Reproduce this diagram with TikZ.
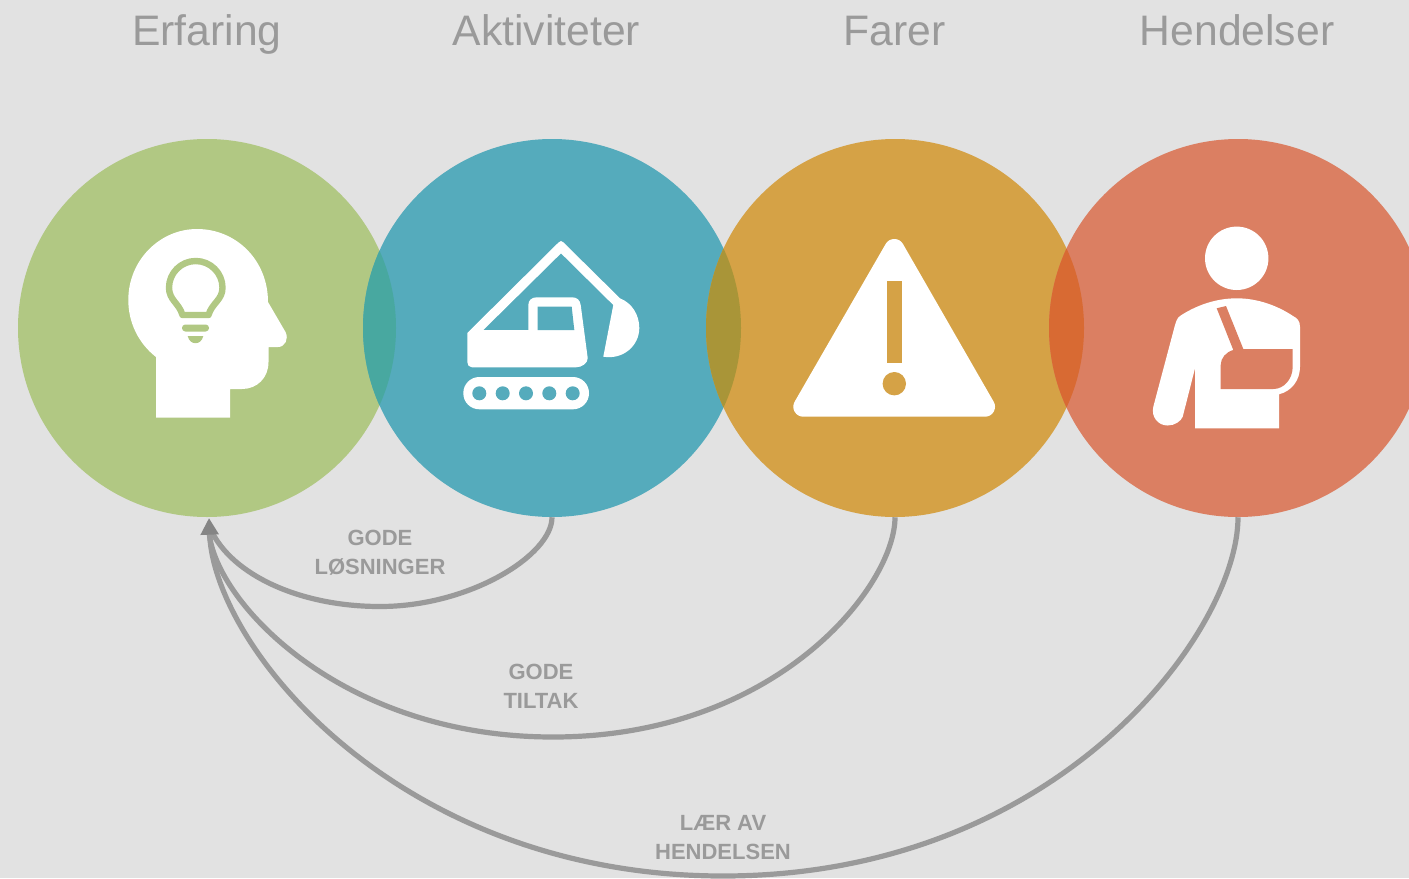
\documentclass[tikz,border=0pt]{standalone}
\usepackage{fontspec}
\setmainfont{Liberation Sans}
\usetikzlibrary{arrows.meta}
\definecolor{bg}{HTML}{E2E2E2}
\definecolor{cgreen}{HTML}{B1C883}
\definecolor{cblue}{HTML}{55ABBC}
\definecolor{corange}{HTML}{D5A246}
\definecolor{cred}{HTML}{DB7F62}
\definecolor{ovA}{HTML}{48A8A0}
\definecolor{ovB}{HTML}{A99538}
\definecolor{ovC}{HTML}{D86A33}
\definecolor{txt}{HTML}{9A9A9A}
\definecolor{tipc}{HTML}{858585}
\tikzset{
  x=0.75pt,y=-0.75pt,
  bigcircle/.style={circle,inner sep=0pt,minimum size=283.5pt},
  title/.style={text=txt,font=\fontsize{32}{32}\selectfont,inner sep=0pt,anchor=base},
  lab/.style={text=txt,font=\fontsize{16.5}{21.7}\selectfont\bfseries,align=center,inner sep=0pt},
  conn/.style={draw=txt,line width=3.9pt},
  icon/.style={fill=white,draw=none}
}
\begin{document}
\begin{tikzpicture}
\useasboundingbox (0,0) rectangle (1409,878);
\clip (0,0) rectangle (1409,878);
\fill[bg] (0,0) rectangle (1409,878);
% circles
\node[bigcircle,fill=cgreen] (erfaring) at (207,328) {};
\node[bigcircle,fill=cblue] (aktiviteter) at (552,328) {};
\node[bigcircle,fill=corange] (farer) at (895,328) {};
\node[bigcircle,fill=cred] (hendelser) at (1238,328) {};
\begin{scope}\clip (207,328) circle[radius=189];\fill[ovA] (552,328) circle[radius=189];\end{scope}
\begin{scope}\clip (552,328) circle[radius=189];\fill[ovB] (895,328) circle[radius=189];\end{scope}
\begin{scope}\clip (895,328) circle[radius=189];\fill[ovC] (1238,328) circle[radius=189];\end{scope}
% titles
\node[title] (t1) at (207,45) {Erfaring};
\node[title] (t2) at (546.5,45) {Aktiviteter};
\node[title] (t3) at (894.5,45) {Farer};
\node[title] (t4) at (1237,45) {Hendelser};
% connectors
\coordinate (tip) at (209,518);
\draw[conn] (aktiviteter.south) .. controls (552,555) and (470,606.5) .. (380,606.5) .. controls (300,606.5) and (232,575) .. (211,530);
\draw[conn] (farer.south) .. controls (895,586) and (777,737) .. (553,737) .. controls (338,737) and (212,598) .. (209,530);
\draw[conn,-{Triangle[length=12.5pt,width=13pt,color=tipc,fill=tipc]}] (hendelser.south) .. controls (1238,630) and (1060,876) .. (723,876) .. controls (400,876) and (214,648) .. (tip);
% labels
\node[lab] (l1) at (380,552.5) {GODE\\LØSNINGER};
\node[lab] (l2) at (541,686.5) {GODE\\TILTAK};
\node[lab] (l3) at (723,837.5) {LÆR AV\\HENDELSEN};
% head icon
\fill[icon] (156,417.5) -- (156,357) .. controls (138,343) and (128.3,322) .. (128.3,300)
  .. controls (128.3,260) and (160,229) .. (197,229) .. controls (236,229) and (268,260) .. (268,302)
  -- (285.5,332) .. controls (289,339) and (285,347) .. (278,347) -- (268.5,347) -- (268.5,362)
  .. controls (268.5,378) and (257,389) .. (242,389) -- (230,389) -- (230,417.5) -- cycle;
\draw[cgreen,line width=4.8pt,line join=round] (182.5,315) -- (208.5,315) .. controls (212,303) and (222.5,300) .. (222.5,287.7)
  .. controls (222.5,273) and (210.5,261) .. (195.7,261) .. controls (181,261) and (169,273) .. (169,287.7)
  .. controls (169,300) and (179,303) .. (182.5,315) -- cycle;
\fill[cgreen,rounded corners=2.5pt] (182,324.5) rectangle (209,331.5);
\fill[cgreen] (187.7,336) -- (203.3,336) .. controls (202,341) and (199,343.2) .. (195.5,343.2) .. controls (192,343.2) and (189,341) .. (187.7,336) -- cycle;
% excavator icon
\fill[icon] (467.3,333) -- (558.5,242.5) .. controls (560,240.5) and (562,240.5) .. (563.5,242.5) -- (620,298.3)
  .. controls (632,303) and (639.3,315) .. (639.3,328) .. controls (639.3,345) and (624,360) .. (603.3,356.7)
  -- (613.3,305) -- (561,253.3) -- (483.3,330) -- (528.3,330) -- (528.3,305)
  .. controls (528.3,300) and (532,297.3) .. (537,297.3) -- (572,297.3) .. controls (577,297.3) and (580,300) .. (580.7,305)
  -- (587.7,358) .. controls (588,363) and (582,367.3) .. (576,367.3) -- (472,367.3)
  .. controls (469,367.3) and (467.3,365) .. (467.3,362) -- cycle;
\fill[cblue] (537.7,306.7) -- (571.7,306.7) -- (574.3,330) -- (537.7,330) -- cycle;
\fill[icon,rounded corners=12pt] (463.3,377) rectangle (589,409.3);
\foreach \wx in {479.3,502.7,526,549.3,572.7} \fill[cblue] (\wx,393.3) circle[radius=7];
% warning icon
\draw[white,fill=white,line width=15pt,line join=round] (894.3,249) -- (985,406.7) -- (803.3,406.7) -- cycle;
\fill[corange] (887.3,281) rectangle (901.7,363.3);
\fill[corange] (894.3,383.7) circle[radius=11.7];
% person icon
\fill[icon] (1236.7,258.3) circle[radius=31.7];
\fill[icon] (1236.7,298.3) .. controls (1215,298.3) and (1195,306) .. (1180,316) .. controls (1177,318) and (1176,322) .. (1175,325)
  -- (1153.3,406.7) .. controls (1151,417) and (1158,425.5) .. (1167.7,425.5) .. controls (1175,425.5) and (1181,421) .. (1182.7,416.7)
  -- (1195,368.3) -- (1195,428.3) -- (1279,428.3) -- (1279,394.3) .. controls (1292,391) and (1300,380) .. (1300,366.7)
  -- (1300,326.7) .. controls (1300,321) and (1297,318) .. (1293,316) .. controls (1278,306) and (1258,298.3) .. (1236.7,298.3) -- cycle;
\fill[cred] (1216.7,308.3) -- (1226,306) -- (1243.3,349) -- (1292.7,349) -- (1292.7,366.7)
  .. controls (1292.7,379) and (1284,389) .. (1273.3,389) -- (1220.7,389) -- (1220.7,365)
  .. controls (1220.7,358) and (1226,352) .. (1233.3,350) -- cycle;
\end{tikzpicture}
\end{document}
